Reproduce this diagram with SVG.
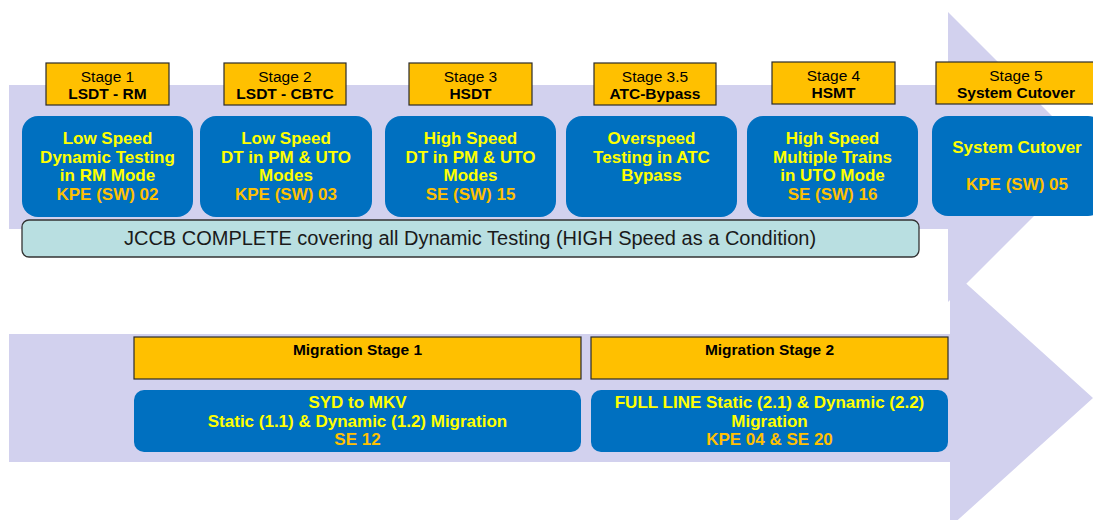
<svg xmlns="http://www.w3.org/2000/svg" width="1093" height="520" viewBox="0 0 1093 520">
<style>
.arrow{fill:#D2D1EE;}
.lbl{fill:#FFC000;stroke:#2b2b2b;stroke-width:1.2;}
.blue{fill:#0070C0;}
.jccb{fill:#B9DFE1;stroke:#333;stroke-width:1.3;}
text{font-family:"Liberation Sans",Arial,sans-serif;text-anchor:middle;}
.st{font-size:15.5px;fill:#000;}
.stb{font-size:15.5px;fill:#000;font-weight:bold;}
.y{font-size:17px;fill:#FFFF00;font-weight:bold;}
.o{font-size:17px;fill:#FFC000;font-weight:bold;}
.j{font-size:20px;fill:#1a1a1a;}
</style>
<rect width="1093" height="520" fill="#fff"/>
<g id="arrows">
<polygon class="arrow" points="9,334 950,334 950,269 1093,398 950,527 950,462 9,462"/>
<polygon class="arrow" points="9,85 948,85 948,12 1093,157 948,302 948,229 9,229"/>
</g>
<g id="stage1">
<rect class="lbl" x="46" y="63" width="123" height="42"/>
<text class="st" x="107.5" y="82">Stage 1</text>
<text class="stb" x="107.5" y="99">LSDT - RM</text>
<rect class="blue" x="22" y="116" width="171" height="101" rx="16"/>
<text class="y" x="107.5" y="144">Low Speed</text>
<text class="y" x="107.5" y="163">Dynamic Testing</text>
<text class="y" x="107.5" y="181">in RM Mode</text>
<text class="o" x="107.5" y="200">KPE (SW) 02</text>
</g>
<g id="stage2">
<rect class="lbl" x="224" y="63" width="122" height="42"/>
<text class="st" x="285" y="82">Stage 2</text>
<text class="stb" x="285" y="99">LSDT - CBTC</text>
<rect class="blue" x="200" y="116" width="172" height="101" rx="16"/>
<text class="y" x="286" y="144">Low Speed</text>
<text class="y" x="286" y="163">DT in PM &amp; UTO</text>
<text class="y" x="286" y="181">Modes</text>
<text class="o" x="286" y="200">KPE (SW) 03</text>
</g>
<g id="stage3">
<rect class="lbl" x="409" y="63" width="123" height="42"/>
<text class="st" x="470.5" y="82">Stage 3</text>
<text class="stb" x="470.5" y="99">HSDT</text>
<rect class="blue" x="385" y="116" width="171" height="101" rx="16"/>
<text class="y" x="470.5" y="144">High Speed</text>
<text class="y" x="470.5" y="163">DT in PM &amp; UTO</text>
<text class="y" x="470.5" y="181">Modes</text>
<text class="o" x="470.5" y="200">SE (SW) 15</text>
</g>
<g id="stage35">
<rect class="lbl" x="594" y="63" width="122" height="42"/>
<text class="st" x="655" y="82">Stage 3.5</text>
<text class="stb" x="655" y="99">ATC-Bypass</text>
<rect class="blue" x="566" y="116" width="171" height="101" rx="16"/>
<text class="y" x="651.5" y="144">Overspeed</text>
<text class="y" x="651.5" y="163">Testing in ATC</text>
<text class="y" x="651.5" y="181">Bypass</text>
</g>
<g id="stage4">
<rect class="lbl" x="772" y="62" width="123" height="42"/>
<text class="st" x="833.5" y="81">Stage 4</text>
<text class="stb" x="833.5" y="98">HSMT</text>
<rect class="blue" x="747" y="116" width="171" height="101" rx="16"/>
<text class="y" x="832.5" y="144">High Speed</text>
<text class="y" x="832.5" y="163">Multiple Trains</text>
<text class="y" x="832.5" y="181">in UTO Mode</text>
<text class="o" x="832.5" y="200">SE (SW) 16</text>
</g>
<g id="stage5">
<rect class="lbl" x="936" y="62" width="160" height="42"/>
<text class="st" x="1016" y="81">Stage 5</text>
<text class="stb" x="1016" y="98">System Cutover</text>
<rect class="blue" x="932" y="116" width="172" height="100" rx="16"/>
<text class="y" x="1017" y="153">System Cutover</text>
<text class="o" x="1017" y="190">KPE (SW) 05</text>
</g>
<g id="jccb">
<rect class="jccb" x="22" y="220" width="897" height="37" rx="7"/>
<text class="j" x="470" y="245">JCCB COMPLETE covering all Dynamic Testing (HIGH Speed as a Condition)</text>
</g>
<g id="migration1">
<rect class="lbl" x="134" y="337" width="447" height="42"/>
<text class="stb" x="357.5" y="355">Migration Stage 1</text>
<rect class="blue" x="134" y="390" width="447" height="62" rx="10"/>
<text class="y" x="357.5" y="408">SYD to MKV</text>
<text class="y" x="357.5" y="427">Static (1.1) &amp; Dynamic (1.2) Migration</text>
<text class="o" x="357.5" y="445">SE 12</text>
</g>
<g id="migration2">
<rect class="lbl" x="591" y="337" width="357" height="42"/>
<text class="stb" x="769.5" y="355">Migration Stage 2</text>
<rect class="blue" x="591" y="390" width="357" height="62" rx="10"/>
<text class="y" x="769.5" y="408">FULL LINE Static (2.1) &amp; Dynamic (2.2)</text>
<text class="y" x="769.5" y="427">Migration</text>
<text class="o" x="769.5" y="445">KPE 04 &amp; SE 20</text>
</g>
</svg>
